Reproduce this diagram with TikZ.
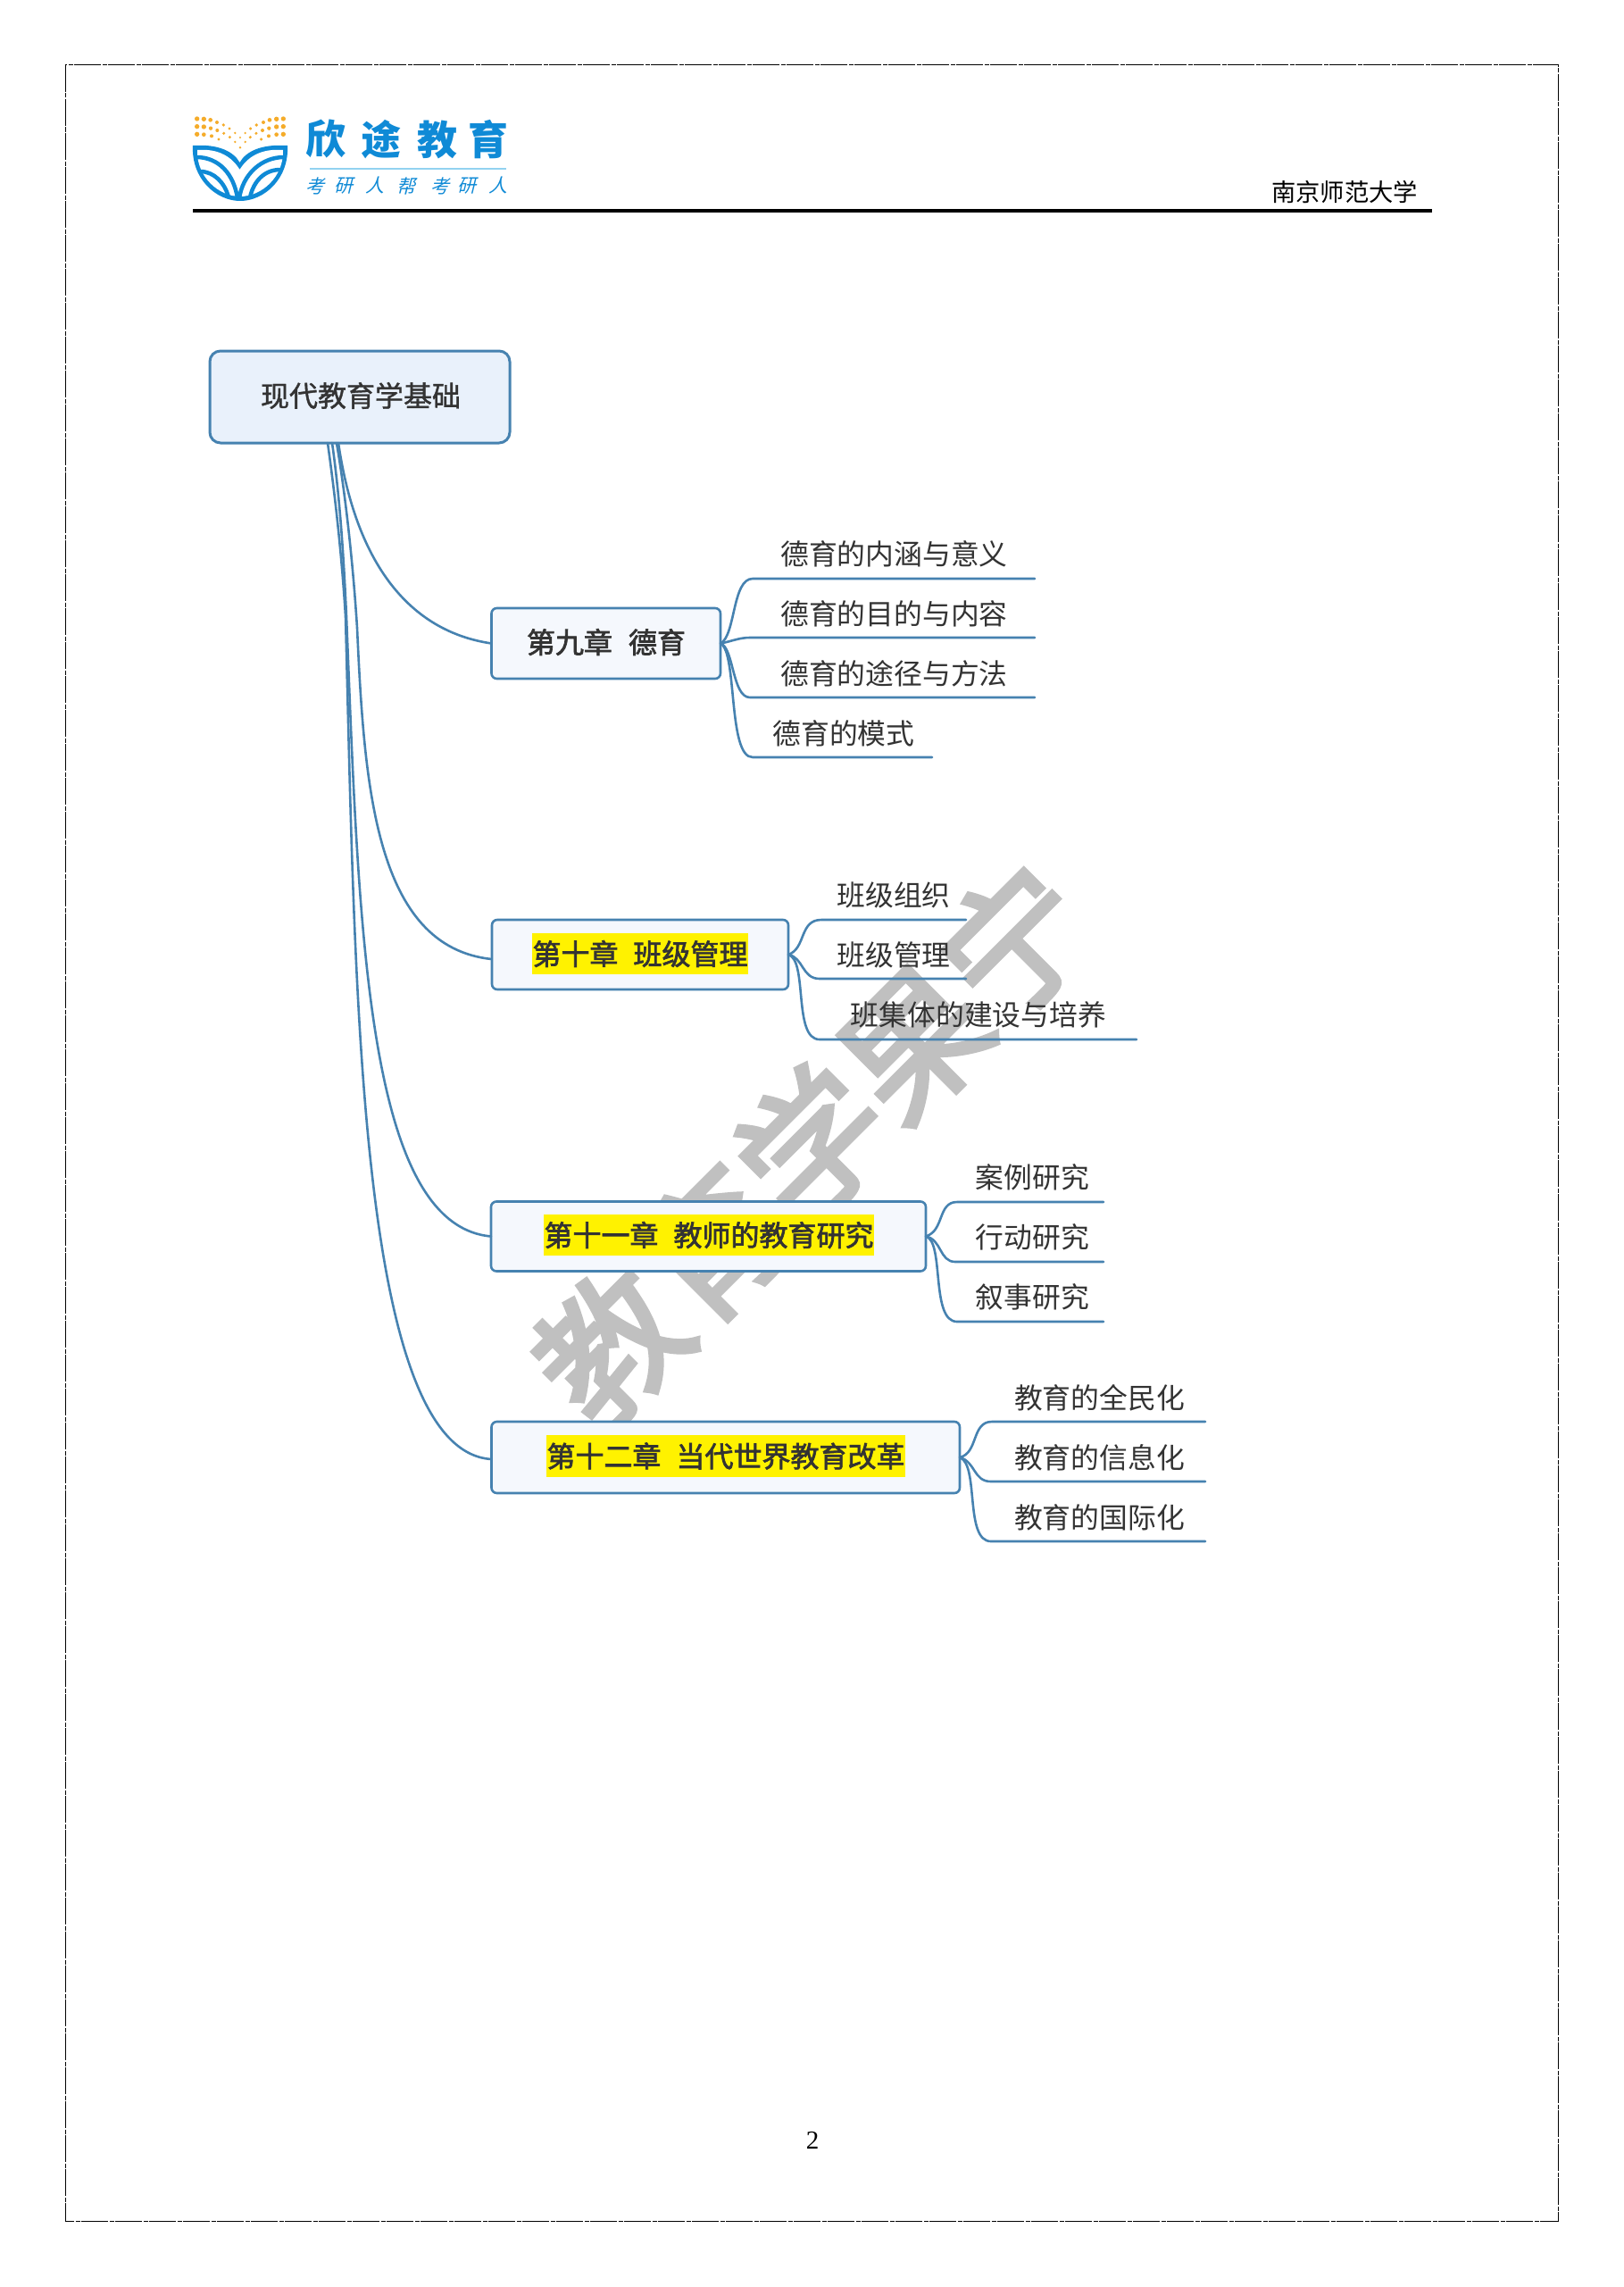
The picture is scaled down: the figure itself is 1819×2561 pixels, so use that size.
\documentclass[tikz,border=0pt]{standalone}
\usepackage{fontspec}
\setmainfont{Noto Sans CJK SC}
\newfontfamily\numfont{Liberation Serif}
\newfontfamily\rootfont[FakeBold=1.2]{Noto Sans CJK SC}
\newfontfamily\medfont[FakeBold=2.2]{Noto Sans CJK SC}
\newfontfamily\wmfont[FakeBold=3]{Noto Sans CJK SC}
\definecolor{lineblue}{HTML}{4682B0}
\definecolor{rootfill}{HTML}{E9F1FB}
\definecolor{nodefill}{HTML}{F5F8FD}
\definecolor{inkdark}{HTML}{333333}
\definecolor{logoblue}{HTML}{0F8AD6}
\definecolor{logoline}{HTML}{92D2F0}
\definecolor{logodot}{HTML}{F5AC2A}
\definecolor{wmgray}{HTML}{C0C0C0}
\tikzset{
  conn/.style={draw=lineblue,line width=2.6pt,line cap=round,line join=round},
  rootbox/.style={draw=lineblue,fill=rootfill,line width=3pt,rounded corners=12pt,inner sep=0pt,outer sep=0pt},
  chapbox/.style={draw=lineblue,fill=nodefill,line width=2.6pt,rounded corners=6pt,inner sep=0pt,outer sep=0pt},
  hlbox/.style={fill=yellow,inner sep=0pt,outer sep=0pt,text=inkdark,font=\fontsize{32}{38}\medfont},
  chaptext/.style={inner sep=0pt,outer sep=0pt,text=inkdark,font=\fontsize{32}{38}\medfont},
  roottext/.style={inner sep=0pt,outer sep=0pt,text=inkdark,font=\fontsize{32}{38}\rootfont},
  leaftext/.style={inner sep=0pt,outer sep=0pt,text=inkdark,font=\fontsize{31.8}{38}\selectfont},
  lognm/.style={inner sep=0pt,outer sep=0pt,text=logoblue,font=\fontsize{45}{50}\selectfont\bfseries},
  logsub/.style={inner sep=0pt,outer sep=0pt,text=logoblue,xslant=0.25,transform shape,font=\fontsize{21}{24}\selectfont},
}
\begin{document}
\begin{tikzpicture}[x=1pt,y=-1pt]
\useasboundingbox (0,0) rectangle (1819,2561);
\fill[white] (0,0) rectangle (1819,2561);
% page frame
\draw[black,line width=1pt,dash pattern=on 30pt off 1.5pt on 5pt off 1.5pt] (73,73) rectangle (1745,2487);
% header rule and text
\draw[black,line width=3.2pt] (216,236) -- (1604,236);
\node[inner sep=0pt,text=black,font=\fontsize{27.3}{32}\selectfont] (school) at (1506,215) {南京师范大学};
% page number
\node[inner sep=0pt,text=black,font=\fontsize{29}{32}\selectfont\numfont] (pageno) at (910,2397) {2};
% logo dots
\begin{scope}[shift={(200,110)},x=0.3333pt,y=-0.3333pt]
  \foreach \px/\py/\r in {62/69/8,85/70/8,107/73/7,129/81/6,151/90/5.5,171/102/5,190/117/4,
    352/69/8,329/70/8,306/73/7,285/81/6,262/90/5.5,242/102/5,224/117/4,
    62/95/8,85/96/8,108/101/6.5,130/108/6,152/118/5,172/131/5,190/147/4,207/132/3.5,
    352/95/8,329/96/8,304/101/6.5,282/108/6,261/118/5,241/131/5,224/147/4,
    62/121/8,85/122/7,111/127/6,135/138/5,
    352/121/8,329/122/7,303/127/6,278/138/5,207/166/4}
    \fill[logodot] (\px,\py) circle[radius=\r*0.3333pt];
\end{scope}
% logo mark
\fill[logoblue] (216,163) .. controls (245,161) and (262,170) .. (268.5,182)
  .. controls (275,170) and (292,161) .. (322,163)
  .. controls (324,200) and (296,225) .. (269,225)
  .. controls (242,225) and (214,200) .. (216,163) -- cycle;
\fill[white] (221,168) .. controls (245,166) and (260,176) .. (268.5,190)
  .. controls (277,176) and (292,166) .. (317,168)
  .. controls (318,198) and (293,220) .. (269,220)
  .. controls (245,220) and (220,198) .. (221,168) -- cycle;
\draw[logoblue,line width=4.5pt] (220,176) .. controls (245,176) and (262,195) .. (266,222);
\draw[logoblue,line width=4.5pt] (224,192) .. controls (240,192) and (252,205) .. (256,221);
\draw[logoblue,line width=4.5pt] (318,176) .. controls (293,176) and (272,195) .. (268,222);
\draw[logoblue,line width=4.5pt] (314,190) .. controls (296,190) and (284,203) .. (280,221);
% logo texts
\node[lognm] (lg1) at (365,156) {欣};
\node[lognm] (lg2) at (427,156) {途};
\node[lognm] (lg3) at (490,156) {教};
\node[lognm] (lg4) at (547,156) {育};
\draw[logoline,line width=2pt] (347,189) -- (567,189);
\node[logsub] (ls1) at (355,208) {考};
\node[logsub] (ls2) at (387,208) {研};
\node[logsub] (ls3) at (422,208) {人};
\node[logsub] (ls4) at (457,208) {帮};
\node[logsub] (ls5) at (495,208) {考};
\node[logsub] (ls6) at (525,208) {研};
\node[logsub] (ls7) at (560,208) {人};
% watermark
\begin{scope}
\clip (500,900) rectangle (1300,1610);
\node[inner sep=0pt,text=wmgray,rotate=45,font=\fontsize{160}{170}\wmfont] (wm) at (910,1280) {教育学果宁};
\end{scope}
% root
\node[rootbox,minimum width=336pt,minimum height=103pt] (root) at (403,444.5) {};
\node[roottext] (roott) at (404,443) {现代教育学基础};
% chapter boxes
\node[chapbox,minimum width=256.5pt,minimum height=79pt] (n9) at (678.75,720.5) {};
\node[chaptext] (t9) at (679,719) {第九章\hspace{18pt}德育};
\node[chapbox,minimum width=332pt,minimum height=78pt] (n10) at (717,1069) {};
\node[hlbox,minimum width=242pt,minimum height=46pt] (t10) at (717,1068) {第十章\hspace{17pt}班级管理};
\node[chapbox,minimum width=487pt,minimum height=78pt] (n11) at (793.5,1384.5) {};
\node[hlbox,minimum width=370pt,minimum height=46pt] (t11) at (794,1383) {第十一章\hspace{17pt}教师的教育研究};
\node[chapbox,minimum width=524.5pt,minimum height=80pt] (n12) at (812.75,1632) {};
\node[hlbox,minimum width=402pt,minimum height=47pt] (t12) at (813,1630.5) {第十二章\hspace{17pt}当代世界教育改革};
% root connectors
\coordinate (r9) at ([xshift=-24pt]root.south);
\coordinate (r10) at ([xshift=-26pt]root.south);
\coordinate (r11) at ([xshift=-31pt]root.south);
\coordinate (r12) at ([xshift=-36pt]root.south);
\coordinate (e10) at (550.5,1074);
\coordinate (e12) at (550.5,1634);
\draw[conn] (r9) .. controls (400,640) and (465,708) .. (n9.west);
\draw[conn] (r10) .. controls (388,560) and (396,640) .. (400,703) .. controls (408,880) and (420,1060) .. (e10);
\draw[conn] (r11) .. controls (381,560) and (385,625) .. (388,690) .. controls (402,1040) and (410,1372) .. (n11.west);
\draw[conn] (r12) .. controls (376,560) and (383,625) .. (387,690) .. controls (398,1100) and (400,1625) .. (e12);
% leaves chapter 9
\node[leaftext] (a1) at (1001.5,620) {德育的内涵与意义};
\node[leaftext] (a2) at (1001.5,687) {德育的目的与内容};
\node[leaftext] (a3) at (1001.5,754) {德育的途径与方法};
\node[leaftext] (a4) at (945,821) {德育的模式};
\coordinate (a1e) at (1159,648);
\coordinate (a2e) at (1159,714);
\coordinate (a3e) at (1159,781);
\coordinate (a4e) at (1044,848);
\draw[conn] (n9.east) .. controls (824,712) and (820,648) .. (843,648) -- (a1e);
\draw[conn] (n9.east) .. controls (820,718) and (828,714) .. (840,714) -- (a2e);
\draw[conn] (n9.east) .. controls (822,725) and (820,781) .. (840,781) -- (a3e);
\draw[conn] (n9.east) .. controls (826,730) and (815,848) .. (843,848) -- (a4e);
% leaves chapter 10
\node[leaftext] (b1) at (1001,1002) {班级组织};
\node[leaftext] (b2) at (1001,1069) {班级管理};
\node[leaftext] (b3) at (1096,1136.5) {班集体的建设与培养};
\coordinate (b1e) at (1082,1030);
\coordinate (b2e) at (1082,1096);
\coordinate (b3e) at (1273,1164);
\draw[conn] (n10.east) .. controls (903,1062) and (895,1030) .. (920,1030) -- (b1e);
\draw[conn] (n10.east) .. controls (900,1072) and (898,1096) .. (918,1096) -- (b2e);
\draw[conn] (n10.east) .. controls (905,1075) and (888,1164) .. (918,1164) -- (b3e);
% leaves chapter 11
\node[leaftext] (c1) at (1156.5,1318) {案例研究};
\node[leaftext] (c2) at (1156.5,1385) {行动研究};
\node[leaftext] (c3) at (1156.5,1452.5) {叙事研究};
\coordinate (c1e) at (1236,1346);
\coordinate (c2e) at (1236,1413);
\coordinate (c3e) at (1236,1480);
\draw[conn] (n11.east) .. controls (1058,1378) and (1050,1346) .. (1072,1346) -- (c1e);
\draw[conn] (n11.east) .. controls (1055,1388) and (1052,1413) .. (1070,1413) -- (c2e);
\draw[conn] (n11.east) .. controls (1058,1390) and (1042,1480) .. (1072,1480) -- (c3e);
% leaves chapter 12
\node[leaftext] (d1) at (1231.5,1565) {教育的全民化};
\node[leaftext] (d2) at (1231.5,1632) {教育的信息化};
\node[leaftext] (d3) at (1231.5,1699) {教育的国际化};
\coordinate (d1e) at (1350,1592);
\coordinate (d2e) at (1350,1659);
\coordinate (d3e) at (1350,1726);
\draw[conn] (n12.east) .. controls (1096,1627) and (1088,1592) .. (1111,1592) -- (d1e);
\draw[conn] (n12.east) .. controls (1093,1637) and (1090,1659) .. (1110,1659) -- (d2e);
\draw[conn] (n12.east) .. controls (1097,1640) and (1080,1726) .. (1110,1726) -- (d3e);
\end{tikzpicture}
\end{document}
